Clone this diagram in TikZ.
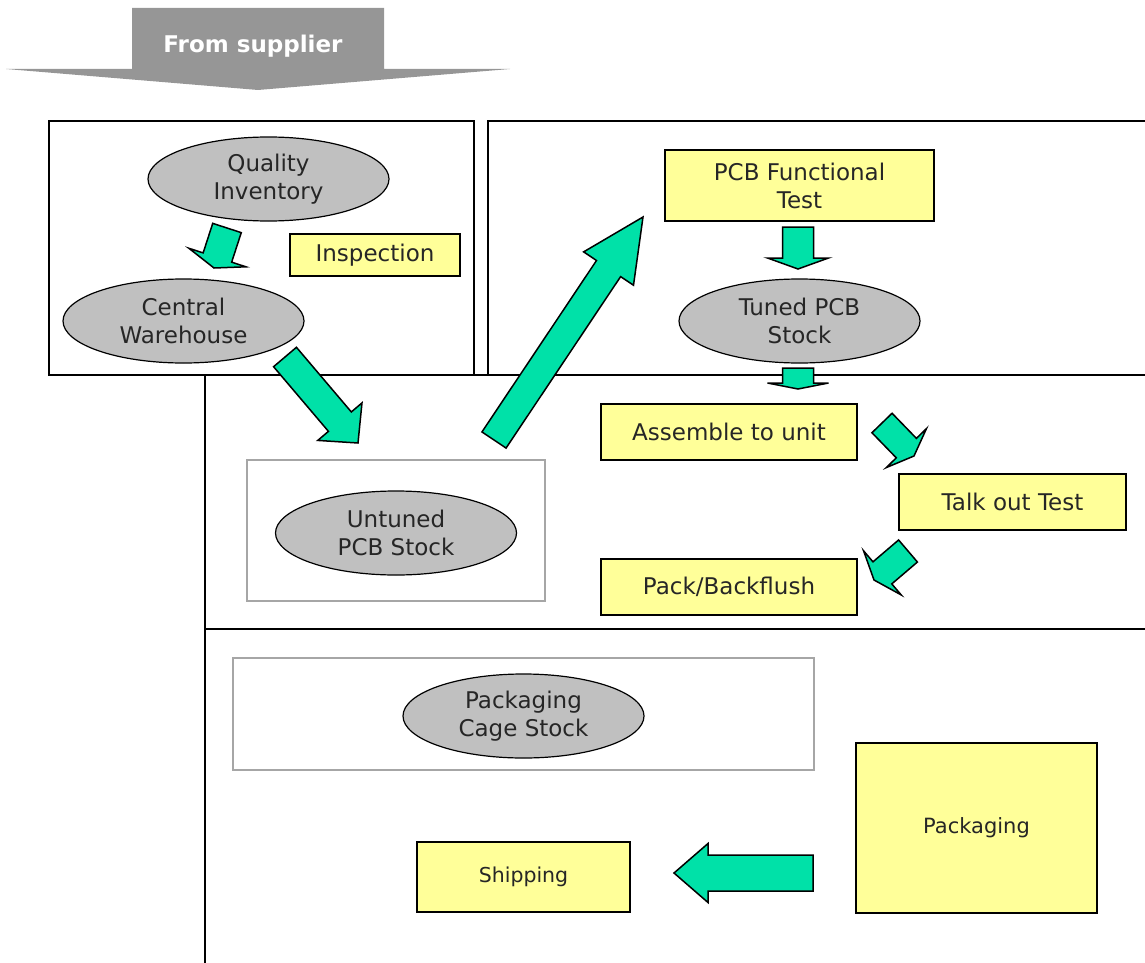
\documentclass[tikz,border=0pt]{standalone}
\usepackage{fontspec}
\setmainfont{DejaVu Sans}
\usetikzlibrary{shapes.geometric,calc,positioning}

\definecolor{flowgreen}{RGB}{0,225,168}
\definecolor{stockgray}{RGB}{192,192,192}
\definecolor{stepyellow}{RGB}{255,255,153}
\definecolor{bannergray}{RGB}{150,150,150}
\definecolor{framegray}{RGB}{166,166,166}

% block arrow: tail, tip, half shaft, half head, head length
\newcommand{\greenarrow}[5]{%
  \coordinate (gbase) at ($(#2)!#5!(#1)$);
  \draw[flow] ($(#1)!#3!90:(#2)$) -- ($(gbase)!#3!90:(#2)$) -- ($(gbase)!#4!90:(#2)$)
    -- (#2) -- ($(gbase)!#4!-90:(#2)$) -- ($(gbase)!#3!-90:(#2)$) -- ($(#1)!#3!-90:(#2)$) -- cycle;}

\tikzset{
  stock/.style={ellipse, draw, line width=1.2pt, fill=stockgray, minimum width=241pt,
    minimum height=84pt, inner sep=0pt, align=center, text=black!85},
  stepbox/.style={rectangle, draw, line width=1.2pt, fill=stepyellow, inner sep=0pt,
    align=center, text=black!85},
  flow/.style={draw=black, line width=1.5pt, fill=flowgreen, line join=miter},
  area/.style={line width=1.5pt},
  frame/.style={draw=framegray, line width=1.3pt}
}

\begin{document}
\begin{tikzpicture}[x=1pt,y=-1pt,font=\fontsize{23}{28}\selectfont]
  \useasboundingbox (0,0) rectangle (1145,963);

  % supplier banner
  \fill[bannergray] (132,8) -- (384,8) -- (384,69) -- (510,69) -- (258,90) -- (6,69) -- (132,69) -- cycle;
  \node[text=white, font=\fontsize{23}{28}\selectfont\bfseries] (supplier) at (253,46) {From supplier};

  % areas
  \draw[area] (49,121) rectangle (474,375);
  \draw[area] (1146,121) -- (488,121) -- (488,375);
  \draw[area] (205,963) -- (205,375) -- (1146,375);
  \draw[area] (205,629) -- (1146,629);

  \draw[frame] (247,460) rectangle (545,601);
  \draw[frame] (233,658) rectangle (814,770);

  % stocks
  \node[stock] (qinv) at (268.5,179) {Quality\\Inventory};
  \node[stock] (cware) at (183.5,321) {Central\\Warehouse};
  \node[stock] (tuned) at (799.5,321) {Tuned PCB\\Stock};
  \node[stock] (untuned) at (396,533) {Untuned\\PCB Stock};
  \node[stock] (cage) at (523.5,716) {Packaging\\Cage Stock};

  % steps
  \node[stepbox, minimum width=170pt, minimum height=42pt] (insp) at (375,255) {Inspection};
  \node[stepbox, minimum width=269pt, minimum height=71pt] (pcbtest) at (799.5,185.5) {PCB Functional\\Test};
  \node[stepbox, minimum width=256pt, minimum height=56pt] (assemble) at (729,432) {Assemble to unit};
  \node[stepbox, minimum width=227pt, minimum height=56pt] (talkout) at (1012.5,502) {Talk out Test};
  \node[stepbox, minimum width=256pt, minimum height=56pt] (pack) at (729,587) {Pack/Backflush};
  \node[stepbox, minimum width=241pt, minimum height=170pt, font=\fontsize{21}{25}\selectfont] (packaging) at (976.5,828) {Packaging};
  \node[stepbox, minimum width=213pt, minimum height=70pt, font=\fontsize{20.5}{25}\selectfont] (shipping) at (523.5,877) {Shipping};

  % arrow ends
  \coordinate (qinv-out) at (227,228);
  \coordinate (cware-in) at (214,268);
  \coordinate (cware-out) at (285,357);
  \coordinate (untuned-in) at (358,443);
  \coordinate (untuned-out) at (494,440);
  \coordinate (pcbtest-in) at (643,217);
  \coordinate (pcbtest-out) at (798,227);
  \coordinate (tuned-in) at (798,269);
  \coordinate (tuned-out) at (798,368);
  \coordinate (assemble-in) at (798,389);
  \coordinate (assemble-out) at (882,423);
  \coordinate (talkout-in) at (914,456);
  \coordinate (talkout-out) at (908,551);
  \coordinate (pack-in) at (874,580);
  \coordinate (packaging-out) at (813,873);
  \coordinate (shipping-in) at (674,873);

  \greenarrow{qinv-out}{cware-in}{15pt}{30pt}{11pt}
  \greenarrow{cware-out}{untuned-in}{15pt}{29pt}{28pt}
  \greenarrow{untuned-out}{pcbtest-in}{14.5pt}{30pt}{62pt}
  \greenarrow{pcbtest-out}{tuned-in}{15.5pt}{30.5pt}{11pt}
  \greenarrow{tuned-out}{assemble-in}{15.5pt}{30.5pt}{6pt}
  \greenarrow{assemble-out}{talkout-in}{14pt}{28pt}{11pt}
  \greenarrow{talkout-out}{pack-in}{14.5pt}{29pt}{11pt}
  \greenarrow{packaging-out}{shipping-in}{18pt}{29.5pt}{34pt}
\end{tikzpicture}
\end{document}
